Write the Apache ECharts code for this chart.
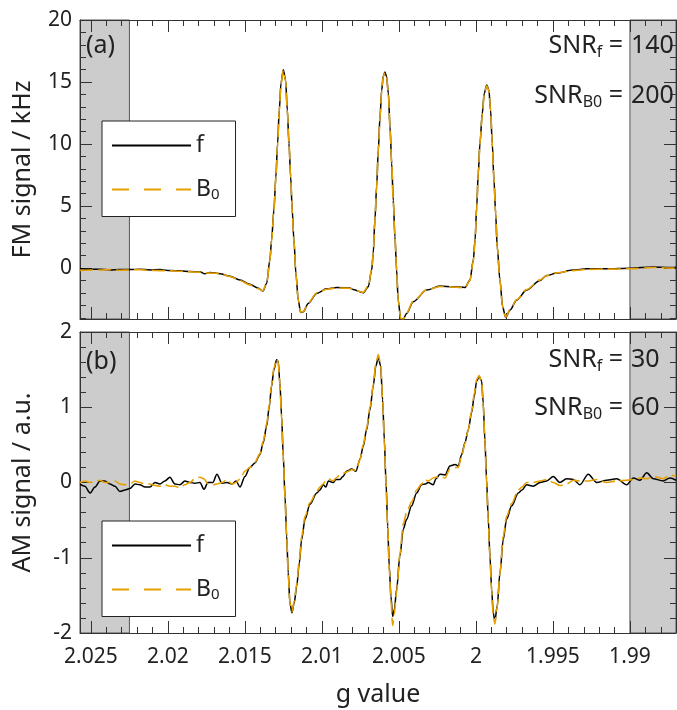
<!DOCTYPE html>
<html>
<head>
<meta charset="utf-8">
<script src="https://cdn.jsdelivr.net/npm/echarts@6/dist/echarts.min.js"></script>
<style>
  html, body { margin: 0; padding: 0; background: #fff; }
  #chart { width: 677px; height: 710px; }
</style>
</head>
<body>
<div id="chart"></div>
<script>
// g values where the FM curves (panel a) were read
const gFM = [
  2.02571, 2.02506, 2.02442, 2.02377, 2.02312, 2.02247, 2.02182, 2.02117, 2.02052, 2.01987,
  2.01922, 2.01857, 2.01792, 2.0176, 2.01727, 2.01662, 2.01597, 2.01532, 2.01468, 2.01416,
  2.01383, 2.01359, 2.01338, 2.01327, 2.01312, 2.01299, 2.01288, 2.01277, 2.01266, 2.01251,
  2.01236, 2.01225, 2.01214, 2.01203, 2.01193, 2.01182, 2.01169, 2.01154, 2.01138, 2.01121,
  2.01089, 2.01034, 2.0097, 2.00904, 2.00818, 2.00797, 2.00732, 2.00699, 2.00677, 2.00667,
  2.00656, 2.00645, 2.00634, 2.00623, 2.00612, 2.00602, 2.00591, 2.0058, 2.00569, 2.00558,
  2.00547, 2.00537, 2.00526, 2.00515, 2.00505, 2.00489, 2.00472, 2.0045, 2.00407, 2.0032,
  2.00234, 2.00147, 2.00071, 2.00039, 2.00017, 2.00006, 1.99995, 1.99985, 1.99974, 1.99959,
  1.99946, 1.9993, 1.99916, 1.99905, 1.99894, 1.99883, 1.99872, 1.99862, 1.99844, 1.99827,
  1.99807, 1.99779, 1.99736, 1.99671, 1.99584, 1.99541, 1.99476, 1.9937, 1.99281, 1.99151,
  1.99, 1.98851, 1.98721, 1.98701
];
// FM signal / kHz, detected via f
const fmF = [
  -0.05, -0.1, -0.08, -0.15, -0.12, -0.12, -0.08, -0.15, -0.12, -0.2,
  -0.22, -0.28, -0.3, -0.45, -0.35, -0.45, -0.65, -0.95, -1.3, -1.6,
  -1.85, -1.24, 0.65, 2.26, 4.68, 7.36, 10.05, 12.74, 14.9, 16.0,
  15.16, 12.74, 10.05, 7.36, 4.68, 2.26, -0.43, -2.58, -3.58, -3.52,
  -2.85, -2.04, -1.67, -1.56, -1.61, -1.72, -1.99, -1.5, -0.16, 1.18,
  3.87, 6.56, 9.52, 12.2, 14.35, 15.48, 15.8, 15.43, 14.09, 11.4,
  8.44, 5.48, 2.53, -0.16, -2.58, -4.06, -4.1, -3.65, -2.7, -1.77,
  -1.45, -1.5, -1.56, -0.97, 0.65, 2.26, 4.95, 7.63, 10.05, 12.47,
  14.09, 14.76, 14.35, 12.74, 10.05, 7.1, 4.41, 1.72, -0.97, -3.12,
  -3.98, -3.39, -2.58, -1.77, -1.0, -0.6, -0.4, -0.16, -0.05, -0.05,
  0.0, 0.1, 0.05, 0.08
];
// FM signal / kHz, detected via B0
const fmB0 = [
  -0.18, -0.15, -0.15, -0.12, -0.17, -0.15, -0.12, -0.18, -0.2, -0.22,
  -0.25, -0.3, -0.32, -0.38, -0.4, -0.42, -0.68, -1.0, -1.35, -1.65,
  -1.82, -1.2, 0.6, 2.2, 4.6, 7.3, 10.0, 12.7, 14.85, 15.95,
  15.1, 12.7, 10.0, 7.3, 4.6, 2.2, -0.45, -2.55, -3.55, -3.5,
  -2.8, -2.0, -1.7, -1.6, -1.62, -1.75, -1.95, -1.45, -0.1, 1.2,
  3.9, 6.6, 9.5, 12.15, 14.3, 15.45, 15.75, 15.4, 14.05, 11.35,
  8.4, 5.45, 2.5, -0.2, -2.6, -4.05, -4.1, -3.6, -2.65, -1.75,
  -1.48, -1.52, -1.58, -1.0, 0.6, 2.2, 4.9, 7.6, 10.0, 12.4,
  14.05, 14.7, 14.3, 12.7, 10.0, 7.05, 4.4, 1.7, -1.0, -3.1,
  -3.95, -3.35, -2.55, -1.72, -0.95, -0.62, -0.38, -0.2, -0.1, -0.08,
  -0.05, 0.05, 0.0, 0.02
];

// g values where the AM curves (panel b) were read
const gAM = [
  2.02571, 2.02539, 2.02506, 2.02474, 2.02442, 2.02409, 2.02377, 2.02344, 2.02312, 2.02279,
  2.02247, 2.02214, 2.02182, 2.02149, 2.02117, 2.02084, 2.02052, 2.0202, 2.01987, 2.01955,
  2.01922, 2.0189, 2.01857, 2.01825, 2.01792, 2.01766, 2.0174, 2.01708, 2.01682, 2.01649,
  2.01617, 2.01584, 2.01558, 2.01532, 2.015, 2.01468, 2.01435, 2.01403, 2.01381, 2.01359,
  2.01342, 2.01327, 2.01312, 2.01294, 2.01284, 2.01273, 2.01262, 2.01251, 2.0124, 2.01229,
  2.01219, 2.01208, 2.01195, 2.0118, 2.01164, 2.01147, 2.01132, 2.0111, 2.01078, 2.01034,
  2.01013, 2.00992, 2.00974, 2.00959, 2.00927, 2.00909, 2.00883, 2.00864, 2.0084, 2.00807,
  2.00779, 2.00753, 2.00732, 2.0071, 2.00688, 2.00667, 2.0065, 2.00634, 2.00619, 2.00606,
  2.00595, 2.00584, 2.00573, 2.00563, 2.00552, 2.00541, 2.0053, 2.00515, 2.00494, 2.00472,
  2.0045, 2.00418, 2.00385, 2.00353, 2.00331, 2.0031, 2.00277, 2.0026, 2.00234, 2.00201,
  2.00169, 2.00136, 2.00115, 2.00093, 2.00071, 2.0005, 2.00028, 2.00011, 1.99995, 1.99979,
  1.99963, 1.99953, 1.99942, 1.99931, 1.9992, 1.99909, 1.99898, 1.99888, 1.99877, 1.99862,
  1.99844, 1.99823, 1.99801, 1.99768, 1.99725, 1.99701, 1.99671, 1.99628, 1.99584, 1.99541,
  1.99498, 1.99455, 1.99412, 1.99368, 1.99325, 1.99271, 1.99216, 1.99151, 1.99086, 1.99021,
  1.98978, 1.98935, 1.98891, 1.98848, 1.98784, 1.9874, 1.98701
];
// AM signal / a.u., detected via f
const amF = [
  -0.02, -0.05, -0.14, -0.06, 0.02, 0.02, -0.02, -0.05, -0.12, -0.1,
  -0.08, -0.02, -0.03, -0.06, -0.06, 0.0, -0.02, 0.02, 0.07, -0.02,
  -0.03, 0.02, 0.0, -0.01, 0.0, -0.09, 0.0, 0.0, 0.11, -0.01,
  0.0, -0.02, 0.02, -0.06, 0.08, 0.2, 0.26, 0.37, 0.53, 0.75,
  1.01, 1.28, 1.5, 1.63, 1.61, 1.32, 0.88, 0.35, -0.18, -0.71,
  -1.2, -1.6, -1.73, -1.6, -1.38, -1.07, -0.76, -0.49, -0.29, -0.14,
  -0.1, -0.03, -0.06, 0.02, 0.0, 0.04, 0.04, 0.08, 0.15, 0.18,
  0.15, 0.31, 0.48, 0.7, 0.97, 1.28, 1.55, 1.66, 1.55, 1.1,
  0.57, 0.0, -0.58, -1.11, -1.51, -1.78, -1.69, -1.42, -0.98, -0.62,
  -0.49, -0.31, -0.14, -0.03, -0.02, 0.0, -0.03, 0.05, 0.11, 0.1,
  0.22, 0.24, 0.22, 0.37, 0.53, 0.7, 0.93, 1.15, 1.35, 1.41,
  1.35, 1.06, 0.57, 0.04, -0.49, -0.98, -1.42, -1.73, -1.84, -1.64,
  -1.2, -0.76, -0.49, -0.31, -0.14, -0.1, -0.03, -0.05, 0.0, 0.02,
  0.08, 0.0, 0.05, 0.04, -0.03, 0.11, 0.0, 0.03, 0.05, -0.03,
  0.06, 0.03, 0.13, 0.05, 0.02, 0.06, 0.03
];
// AM signal / a.u., detected via B0
const amB0 = [
  0.0, 0.02, 0.0, 0.01, 0.03, 0.0, 0.0, 0.02, -0.02, -0.03,
  -0.02, 0.02, 0.0, -0.02, -0.02, -0.04, -0.05, -0.03, -0.05, -0.05,
  -0.07, -0.03, 0.0, 0.05, 0.07, 0.05, -0.02, -0.03, -0.02, 0.0,
  0.04, -0.02, 0.0, 0.05, 0.15, 0.2, 0.27, 0.38, 0.55, 0.78,
  1.03, 1.3, 1.52, 1.64, 1.6, 1.3, 0.86, 0.33, -0.2, -0.73,
  -1.22, -1.6, -1.72, -1.58, -1.35, -1.03, -0.72, -0.45, -0.27, -0.12,
  -0.06, -0.02, 0.03, 0.05, 0.02, 0.06, 0.1, 0.12, 0.14, 0.17,
  0.16, 0.3, 0.5, 0.72, 1.0, 1.3, 1.58, 1.7, 1.57, 1.1,
  0.55, -0.02, -0.6, -1.15, -1.56, -1.9, -1.75, -1.45, -0.95, -0.55,
  -0.4, -0.26, -0.1, -0.02, 0.04, 0.02, 0.06, 0.07, 0.08, 0.06,
  0.18, 0.2, 0.2, 0.35, 0.52, 0.7, 0.95, 1.18, 1.37, 1.42,
  1.34, 1.04, 0.55, 0.0, -0.52, -1.0, -1.45, -1.76, -1.88, -1.66,
  -1.2, -0.72, -0.45, -0.28, -0.1, -0.06, 0.0, 0.0, 0.02, 0.04,
  0.0, -0.04, -0.02, 0.03, 0.02, 0.02, 0.04, 0.0, 0.02, 0.03,
  0.04, 0.06, 0.05, 0.08, 0.05, 0.1, 0.08
];

// axis range, shaded (excluded) g ranges and ticks
const gRange = [1.98701, 2.02571];
const shadeHigh = [2.0225, 2.02571];
const shadeLow = [1.98701, 1.99];
const xMajor = [2.025, 2.02, 2.015, 2.01, 2.005, 2.0, 1.995, 1.99];
const xMinor = [2.024, 2.023, 2.022, 2.021, 2.019, 2.018, 2.017, 2.016, 2.014, 2.013,
  2.012, 2.011, 2.009, 2.008, 2.007, 2.006, 2.004, 2.003, 2.002, 2.001,
  1.999, 1.998, 1.997, 1.996, 1.994, 1.993, 1.992, 1.991, 1.989, 1.988];
const fmRange = [-4.1, 20];
const fmMajor = [0, 5, 10, 15, 20];
const fmMinor = [-4, -3, -2, -1, 1, 2, 3, 4, 6, 7, 8, 9, 11, 12, 13, 14, 16, 17, 18, 19];
const amRange = [-2, 2];
const amMajor = [-2, -1, 0, 1, 2];
const amMinor = [-1.8, -1.6, -1.4, -1.2, -0.8, -0.6, -0.4, -0.2, 0.2, 0.4, 0.6, 0.8, 1.2, 1.4, 1.6, 1.8];

const FONT = 'Noto Sans';
const INK = '#222';
const FRAME = '#333';
const ORANGE = '#E69F00';

const pairs = (xs, ys) => xs.map((x, i) => [x, ys[i]]);

// one axis per side for major ticks and one for minor ticks
const makeX = (grid, position, ticks, len, main, labels, name) => ({
    gridIndex: grid, type: 'value', position: position,
    min: gRange[0], max: gRange[1], inverse: true, z: 2,
    name: name || '', nameLocation: 'middle', nameGap: 49,
    nameTextStyle: { fontFamily: FONT, fontSize: 25, color: INK },
    axisLine: { show: main, onZero: false, lineStyle: { color: FRAME, width: 1 } },
    axisTick: { inside: true, length: len, customValues: ticks, lineStyle: { color: FRAME } },
    axisLabel: labels ? { show: true, customValues: ticks, margin: 14, fontFamily: FONT, fontSize: 21, color: INK } : { show: false },
    splitLine: { show: false }
})
const makeY = (grid, position, range, ticks, len, main, labels, name) => ({
    gridIndex: grid, type: 'value', position: position,
    min: range[0], max: range[1], z: 2,
    name: name || '', nameLocation: 'middle', nameGap: 45,
    nameTextStyle: { fontFamily: FONT, fontSize: 25, color: INK },
    axisLine: { show: main, onZero: false, lineStyle: { color: FRAME, width: 1 } },
    axisTick: { inside: true, length: len, customValues: ticks, lineStyle: { color: FRAME } },
    axisLabel: labels ? { show: true, customValues: ticks, margin: 8, fontFamily: FONT, fontSize: 21, color: INK } : { show: false },
    splitLine: { show: false }
})

const shading = {
    silent: true,
    itemStyle: { color: '#cccccc', borderColor: '#555', borderWidth: 1 },
    data: [
        [{ xAxis: shadeHigh[0] }, { xAxis: shadeHigh[1] }],
        [{ xAxis: shadeLow[0] }, { xAxis: shadeLow[1] }]
    ]
}

const rich = {
    n: { fontFamily: FONT, fontSize: 25, fill: INK, color: INK },
    s: { fontFamily: FONT, fontSize: 16, fill: INK, color: INK, padding: [12, 0, 0, 0] }
}
const label = (x, y, text, align) => ({
    type: 'text', x: x, y: y, z: 10,
    style: { text: text, rich: rich, align: align, verticalAlign: 'middle', fill: INK }
})

const legendOf = (top) => ({
    orient: 'vertical', left: 102, top: top,
    padding: [13, 16, 14, 9], itemGap: 21,
    itemWidth: 79, itemHeight: 14,
    backgroundColor: '#fff', borderColor: INK, borderWidth: 1, borderRadius: 0,
    selectedMode: false,
    itemStyle: { opacity: 0 },
    data: [
        { name: 'f' },
        { name: 'B0', lineStyle: { type: [17, 15] } }
    ],
    formatter: (name) => name === 'B0' ? '{n|B}{s|0}' : '{n|f}',
    textStyle: { color: INK, rich: {
        n: { fontFamily: FONT, fontSize: 23, color: INK },
        s: { fontFamily: FONT, fontSize: 15, color: INK, padding: [11, 0, 0, 0] }
    } }
})

const lineOpts = { type: 'line', symbol: 'none', showSymbol: false, smooth: 0.3, smoothMonotone: 'x' };

const chart = echarts.init(document.getElementById('chart'), null, { renderer: 'canvas' });
chart.setOption({
    animation: false,
    backgroundColor: '#fff',
    grid: [
        { left: 80, top: 20, width: 596, height: 299 },
        { left: 80, top: 332, width: 596, height: 301 }
    ],
    xAxis: [
        makeX(0, 'bottom', xMajor, 12, true, false),
        makeX(0, 'bottom', xMinor, 6, false, false),
        makeX(0, 'top', xMajor, 12, true, false),
        makeX(0, 'top', xMinor, 6, false, false),
        makeX(1, 'bottom', xMajor, 12, true, true, 'g value'),
        makeX(1, 'bottom', xMinor, 6, false, false),
        makeX(1, 'top', xMajor, 12, true, false),
        makeX(1, 'top', xMinor, 6, false, false)
    ],
    yAxis: [
        makeY(0, 'left', fmRange, fmMajor, 12, true, true, 'FM signal / kHz'),
        makeY(0, 'left', fmRange, fmMinor, 6, false, false),
        makeY(0, 'right', fmRange, fmMajor, 12, true, false),
        makeY(0, 'right', fmRange, fmMinor, 6, false, false),
        makeY(1, 'left', amRange, amMajor, 12, true, true, 'AM signal / a.u.'),
        makeY(1, 'left', amRange, amMinor, 6, false, false),
        makeY(1, 'right', amRange, amMajor, 12, true, false),
        makeY(1, 'right', amRange, amMinor, 6, false, false)
    ],
    legend: [legendOf(121), legendOf(521)],
    series: [
        Object.assign({}, lineOpts, {
            name: 'f', xAxisIndex: 0, yAxisIndex: 0,
            data: pairs(gFM, fmF), z: 3,
            itemStyle: { color: '#000' }, lineStyle: { color: '#000', width: 1.5 },
            markArea: shading
        }),
        Object.assign({}, lineOpts, {
            name: 'B0', xAxisIndex: 0, yAxisIndex: 0,
            data: pairs(gFM, fmB0), z: 4,
            itemStyle: { color: ORANGE }, lineStyle: { color: ORANGE, width: 1.6, type: [13, 5] }
        }),
        Object.assign({}, lineOpts, {
            name: 'f', xAxisIndex: 4, yAxisIndex: 4,
            data: pairs(gAM, amF), z: 3,
            itemStyle: { color: '#000' }, lineStyle: { color: '#000', width: 1.5 },
            markArea: shading
        }),
        Object.assign({}, lineOpts, {
            name: 'B0', xAxisIndex: 4, yAxisIndex: 4,
            data: pairs(gAM, amB0), z: 4,
            itemStyle: { color: ORANGE }, lineStyle: { color: ORANGE, width: 1.6, type: [13, 5] }
        })
    ],
    graphic: [
        label(86, 46, '{n|(a)}', 'left'),
        label(86, 362, '{n|(b)}', 'left'),
        label(623, 46, '{n|SNR}{s|f}{n| =}', 'right'),
        label(631, 46, '{n|140}', 'left'),
        label(623, 96, '{n|SNR}{s|B0}{n| =}', 'right'),
        label(631, 96, '{n|200}', 'left'),
        label(623, 360, '{n|SNR}{s|f}{n| =}', 'right'),
        label(631, 360, '{n|30}', 'left'),
        label(623, 408, '{n|SNR}{s|B0}{n| =}', 'right'),
        label(631, 408, '{n|60}', 'left')
    ]
});
</script>
</body>
</html>
